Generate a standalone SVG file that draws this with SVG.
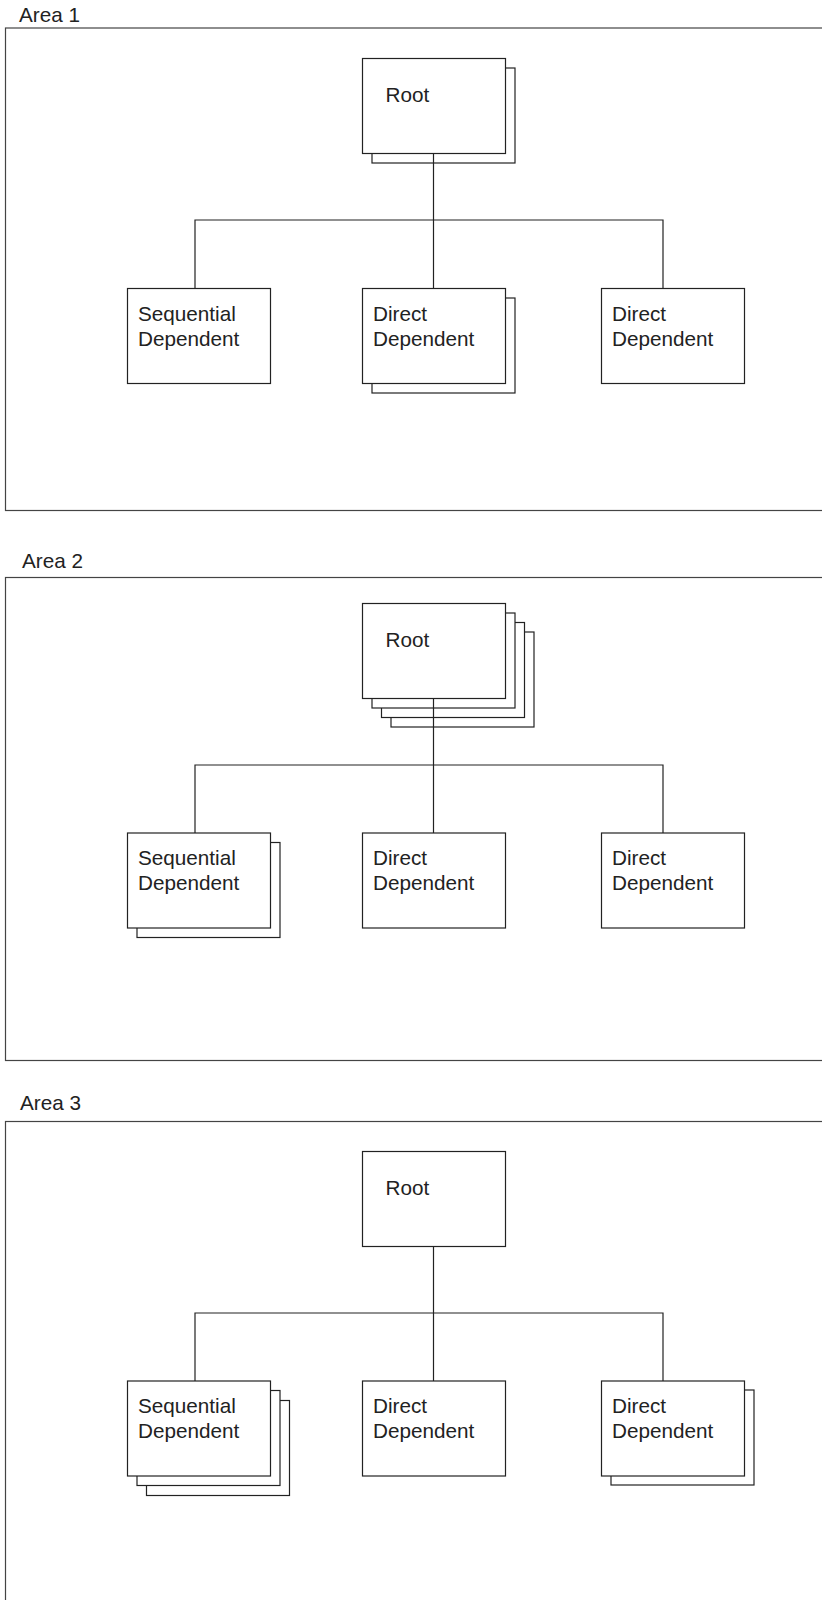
<svg xmlns="http://www.w3.org/2000/svg" width="822" height="1600" viewBox="0 0 822 1600">
<style>
.frame{fill:none;stroke:#444;stroke-width:1.2}
.box{fill:#fff;stroke:#222;stroke-width:1.2}
.conn{fill:none;stroke:#222;stroke-width:1.2}
text{font-family:"Liberation Sans",Arial,sans-serif;font-size:20.7px;fill:#222}
</style>
<rect width="822" height="1600" fill="#fff"/>
<g id="area1">
<text x="19" y="22">Area 1</text>
<rect class="frame" x="5.5" y="28" width="830" height="482.5"/>
</g>
<g id="area2">
<text x="22" y="568">Area 2</text>
<rect class="frame" x="5.5" y="577.5" width="830" height="483"/>
</g>
<g id="area3">
<text x="20" y="1110">Area 3</text>
<rect class="frame" x="5.5" y="1121.5" width="830" height="500"/>
</g>
<g id="a1-root">
<rect class="box" x="372" y="68" width="143" height="95"/>
<rect class="box" x="362.5" y="58.5" width="143" height="95"/>
<text x="385.5" y="101.5">Root</text>
</g>
<g id="a1-seq">
<rect class="box" x="127.5" y="288.5" width="143" height="95"/>
<text x="138" y="320.5">Sequential</text>
<text x="138" y="345.5">Dependent</text>
</g>
<g id="a1-direct1">
<rect class="box" x="372" y="298" width="143" height="95"/>
<rect class="box" x="362.5" y="288.5" width="143" height="95"/>
<text x="373" y="320.5">Direct</text>
<text x="373" y="345.5">Dependent</text>
</g>
<g id="a1-direct2">
<rect class="box" x="601.5" y="288.5" width="143" height="95"/>
<text x="612" y="320.5">Direct</text>
<text x="612" y="345.5">Dependent</text>
</g>
<g id="a2-root">
<rect class="box" x="391" y="632" width="143" height="95"/>
<rect class="box" x="381.5" y="622.5" width="143" height="95"/>
<rect class="box" x="372" y="613" width="143" height="95"/>
<rect class="box" x="362.5" y="603.5" width="143" height="95"/>
<text x="385.5" y="646.5">Root</text>
</g>
<g id="a2-seq">
<rect class="box" x="137" y="842.5" width="143" height="95"/>
<rect class="box" x="127.5" y="833" width="143" height="95"/>
<text x="138" y="865">Sequential</text>
<text x="138" y="890">Dependent</text>
</g>
<g id="a2-direct1">
<rect class="box" x="362.5" y="833" width="143" height="95"/>
<text x="373" y="865">Direct</text>
<text x="373" y="890">Dependent</text>
</g>
<g id="a2-direct2">
<rect class="box" x="601.5" y="833" width="143" height="95"/>
<text x="612" y="865">Direct</text>
<text x="612" y="890">Dependent</text>
</g>
<g id="a3-root">
<rect class="box" x="362.5" y="1151.5" width="143" height="95"/>
<text x="385.5" y="1194.5">Root</text>
</g>
<g id="a3-seq">
<rect class="box" x="146.5" y="1400.5" width="143" height="95"/>
<rect class="box" x="137" y="1390.5" width="143" height="95"/>
<rect class="box" x="127.5" y="1381" width="143" height="95"/>
<text x="138" y="1413">Sequential</text>
<text x="138" y="1438">Dependent</text>
</g>
<g id="a3-direct1">
<rect class="box" x="362.5" y="1381" width="143" height="95"/>
<text x="373" y="1413">Direct</text>
<text x="373" y="1438">Dependent</text>
</g>
<g id="a3-direct2">
<rect class="box" x="611" y="1390" width="143" height="95"/>
<rect class="box" x="601.5" y="1381" width="143" height="95"/>
<text x="612" y="1413">Direct</text>
<text x="612" y="1438">Dependent</text>
</g>
<g id="connectors">
<path class="conn" d="M433.5 153.5V288.5M195 288.5V220H663V288.5"/>
<path class="conn" d="M433.5 698.5V833M195 833V765H663V833"/>
<path class="conn" d="M433.5 1246.5V1381M195 1381V1313H663V1381"/>
</g>
</svg>
